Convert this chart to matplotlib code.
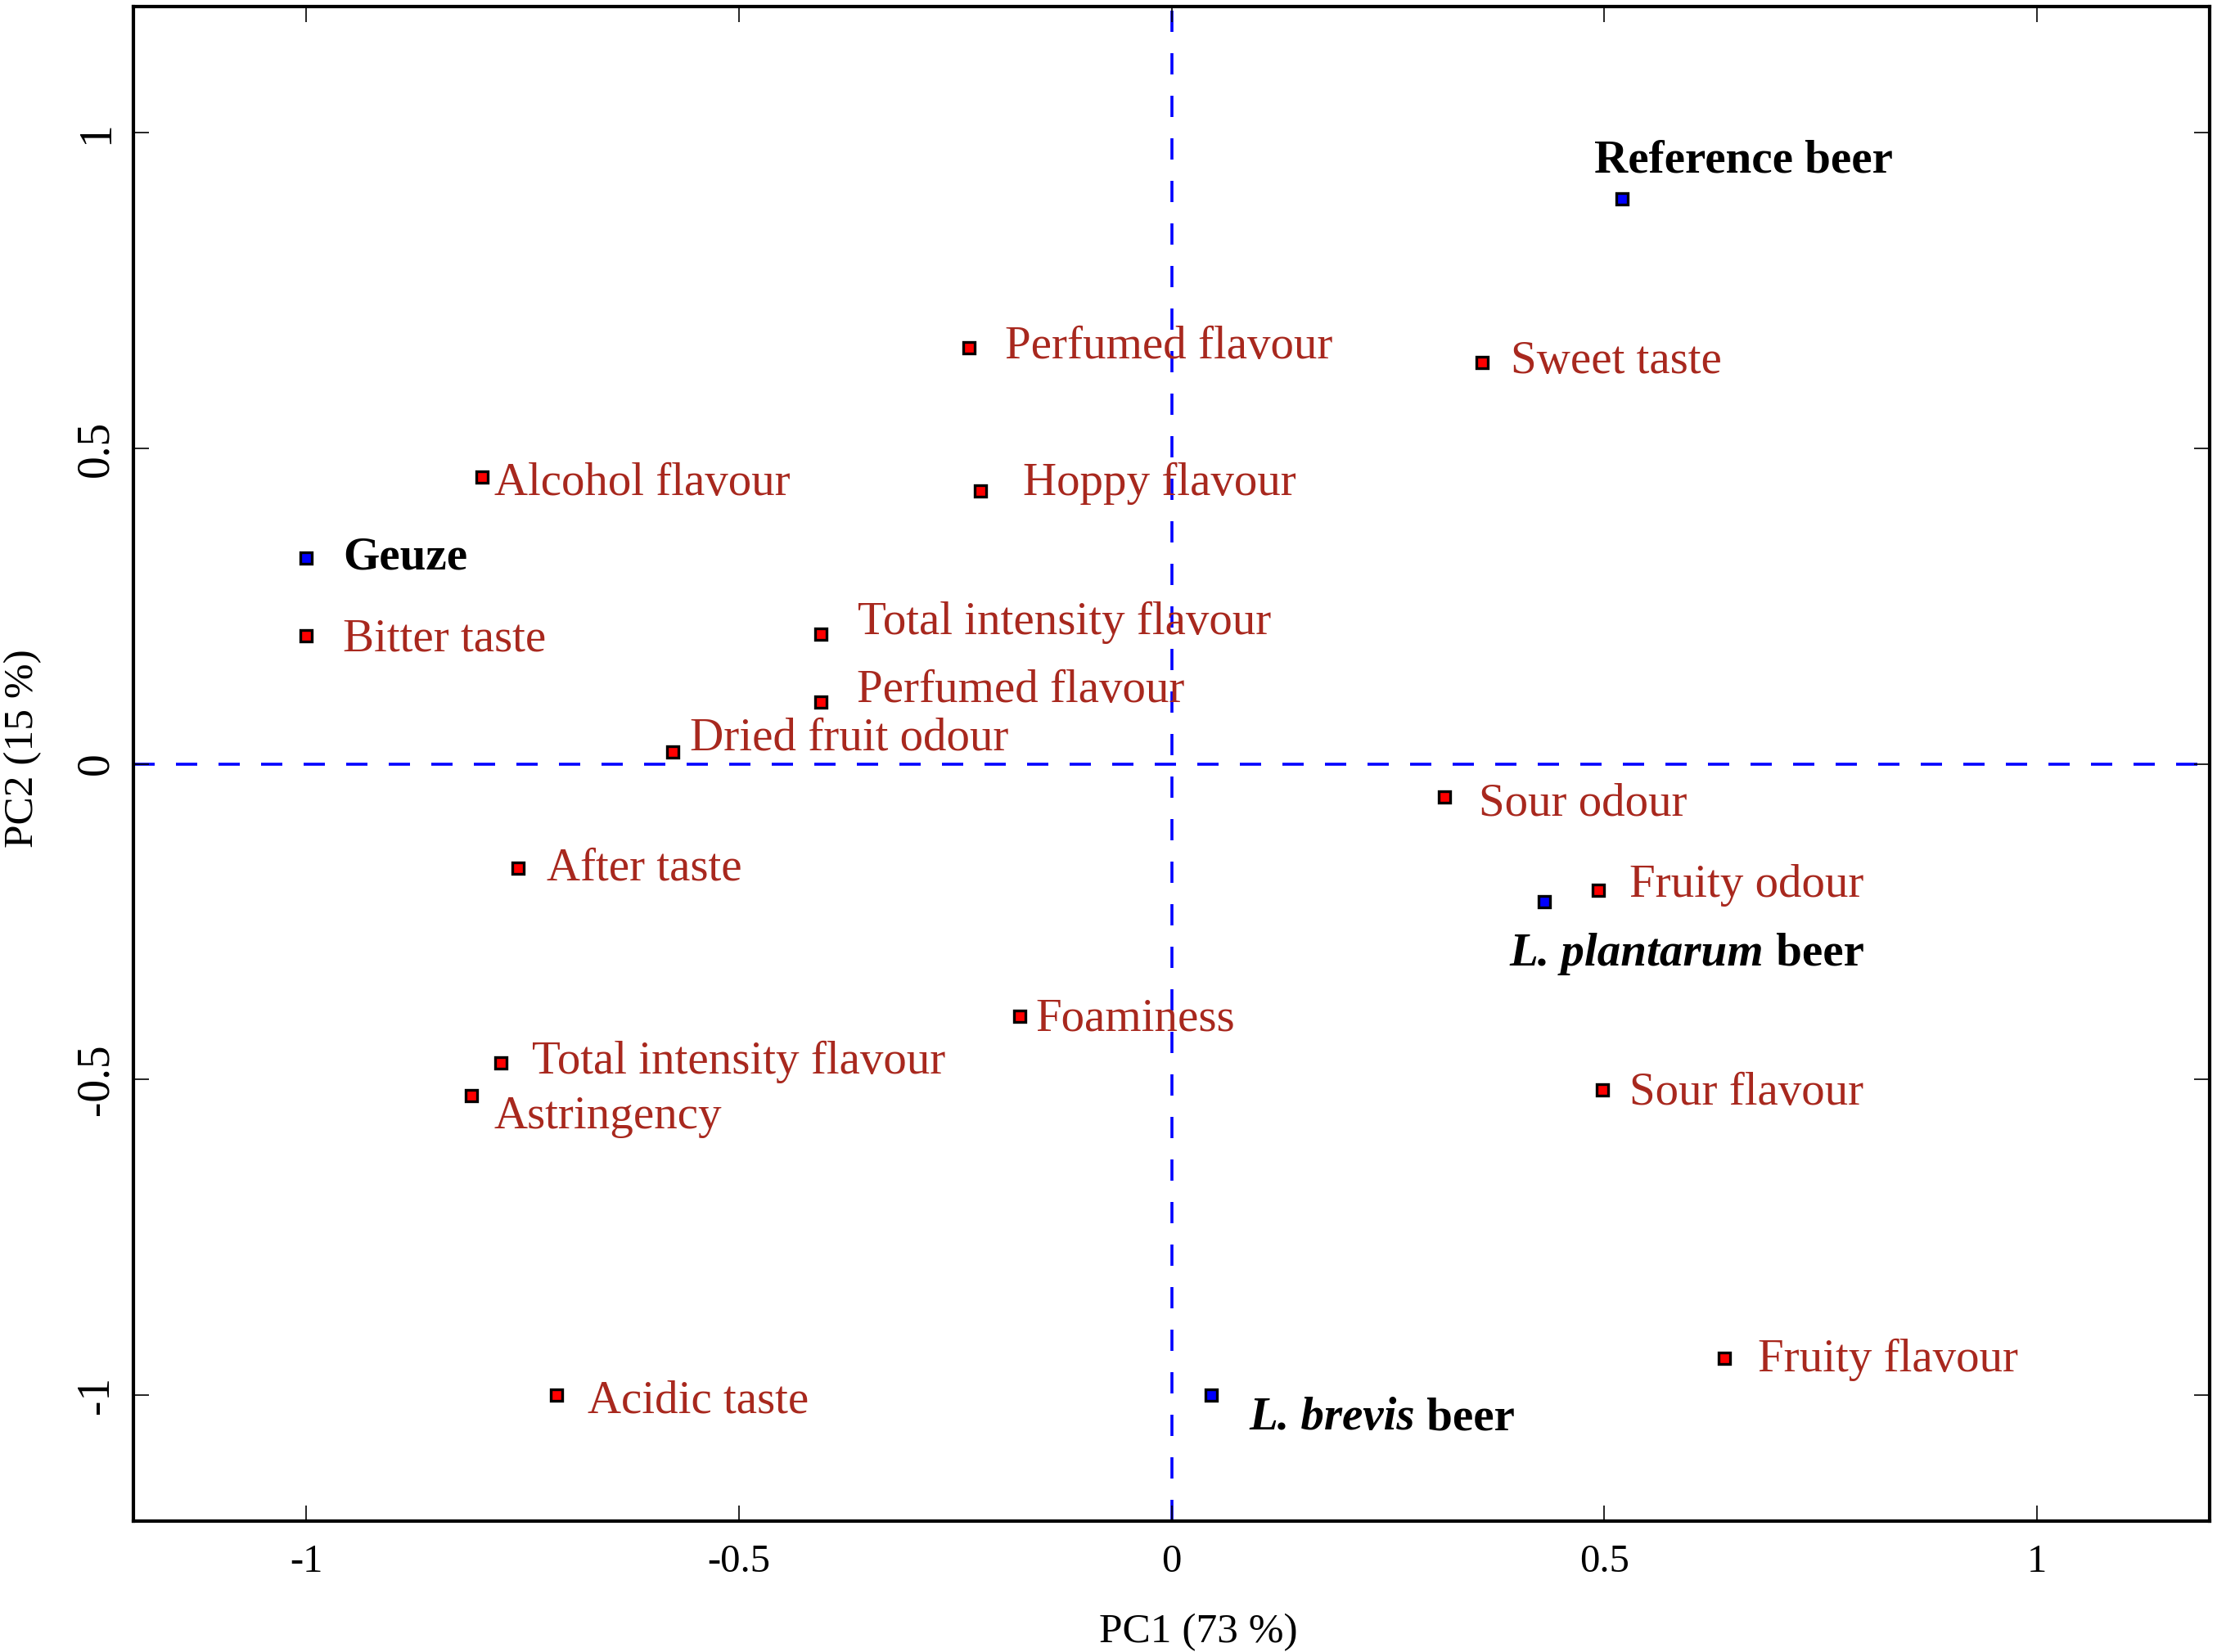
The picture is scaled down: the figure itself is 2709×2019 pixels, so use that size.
import matplotlib
matplotlib.use("Agg")
import matplotlib.pyplot as plt

plt.rcParams['font.family'] = ['Liberation Serif', 'DejaVu Serif']

# Sensory attributes (red points)
attr_names = ["Perfumed flavour", "Sweet taste", "Hoppy flavour", "Alcohol flavour",
              "Bitter taste", "Total intensity flavour", "Perfumed flavour",
              "Dried fruit odour", "Sour odour", "After taste", "Fruity odour",
              "Foaminess", "Total intensity flavour", "Astringency", "Sour flavour",
              "Fruity flavour", "Acidic taste"]
attr_pc1 = [-0.234, 0.359, -0.221, -0.797, -1.0, -0.405, -0.405, -0.577, 0.315,
            -0.755, 0.493, -0.176, -0.775, -0.809, 0.498, 0.639, -0.711]
attr_pc2 = [0.660, 0.636, 0.432, 0.454, 0.203, 0.205, 0.098, 0.019, -0.052,
            -0.165, -0.200, -0.400, -0.474, -0.526, -0.516, -0.942, -1.0]
# label offsets (layout)
attr_dx = [0.041, 0.033, 0.049, 0.014, 0.042, 0.042, 0.041, 0.020, 0.040,
           0.033, 0.036, 0.019, 0.036, 0.026, 0.031, 0.039, 0.036]
attr_dy = [0.009, 0.009, 0.020, -0.002, 0.002, 0.027, 0.026, 0.029, -0.003,
           0.007, 0.015, 0.004, 0.009, -0.026, 0.002, 0.005, -0.002]

# Beers (blue points): (italic part, upright part)
beer_italic = ["", "", "L. plantarum", "L. brevis"]
beer_plain = ["Reference beer", "Geuze", " beer", " beer"]
beer_pc1 = [0.521, -1.0, 0.431, 0.046]
beer_pc2 = [0.896, 0.326, -0.218, -1.0]
beer_dx = [-0.032, 0.042, -0.040, 0.044]
beer_dy = [0.067, 0.009, -0.075, -0.029]

xticks = [-1, -0.5, 0, 0.5, 1]
yticks = [-1, -0.5, 0, 0.5, 1]
xtick_labels = ["-1", "-0.5", "0", "0.5", "1"]
ytick_labels = ["-1", "-0.5", "0", "0.5", "1"]

fig = plt.figure(figsize=(27.09, 20.19), dpi=100)
ax = fig.add_axes([0.0602, 0.0792, 0.9365, 0.9168])
ax.set_xlim(-1.2, 1.2)
ax.set_ylim(-1.2, 1.2)

lw = 2.6
ax.axvline(0, color='#0000FF', lw=lw, linestyle=(0, (7.2, 7.2)), zorder=1)
ax.axhline(0, color='#0000FF', lw=lw, linestyle=(0, (7.2, 7.2)), zorder=1)

txt_red = '#A8281E'
ax.plot(attr_pc1, attr_pc2, linestyle='none', marker='s', ms=9.5, mfc='#FF0000',
        mec='black', mew=2.4, zorder=3)
for n, x, y, dx, dy in zip(attr_names, attr_pc1, attr_pc2, attr_dx, attr_dy):
    ax.text(x + dx, y + dy, n, color=txt_red, fontsize=41, ha='left',
            va='center_baseline', zorder=4)

ax.plot(beer_pc1, beer_pc2, linestyle='none', marker='s', ms=9.5, mfc='#0000FF',
        mec='black', mew=2.4, zorder=3)
for it, pl, x, y, dx, dy in zip(beer_italic, beer_plain, beer_pc1, beer_pc2,
                                beer_dx, beer_dy):
    if it:
        t1 = ax.text(x + dx, y + dy, it, color='black', fontsize=41,
                     fontweight='bold', fontstyle='italic', ha='left',
                     va='center_baseline', zorder=4)
        ax.annotate(pl, xy=(1, 0), xycoords=t1, ha='left', va='bottom',
                    color='black', fontsize=41, fontweight='bold', zorder=4)
    else:
        ax.text(x + dx, y + dy, pl, color='black', fontsize=41,
                fontweight='bold', ha='left', va='center_baseline', zorder=4)

ax.set_xticks(xticks)
ax.set_xticklabels(xtick_labels, fontsize=35)
ax.set_yticks(yticks)
ax.set_yticklabels(ytick_labels, fontsize=40, rotation=90, va='center')
ax.tick_params(direction='in', length=14, width=1.2, top=True, right=True)
ax.tick_params(axis='x', pad=20)
ax.tick_params(axis='y', pad=14)
for s in ax.spines.values():
    s.set_linewidth(3)

ax.set_xlabel("PC1 (73 %)", fontsize=37)
ax.set_ylabel("PC2 (15 %)", fontsize=37)
ax.xaxis.set_label_coords(0.513, -0.061)
ax.yaxis.set_label_coords(-0.044, 0.51)

fig.savefig("out.png", dpi=100)
